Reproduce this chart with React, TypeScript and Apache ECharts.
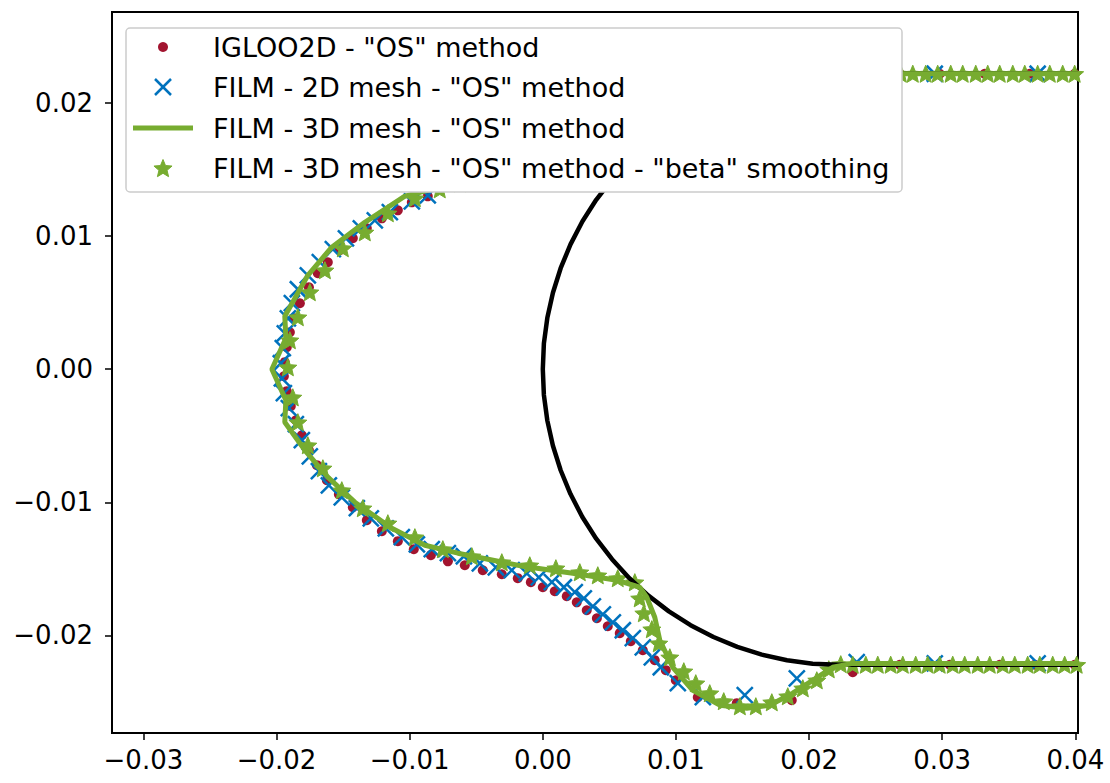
import React, { useEffect, useRef } from "react";
import * as echarts from "echarts";

type P = [number, number];

const X_TICKS = [-0.03, -0.02, -0.01, 0.0, 0.01, 0.02, 0.03, 0.04];
const Y_TICKS = [-0.02, -0.01, 0.0, 0.01, 0.02];

const LEGEND_LABELS = [
  'IGLOO2D - "OS" method',
  'FILM - 2D mesh - "OS" method',
  'FILM - 3D mesh - "OS" method',
  'FILM - 3D mesh - "OS" method - "beta" smoothing',
];

// cylinder wall (black)
const cylinder: P[] = [
  [0.0402, 0.0222], [0.0222, 0.0222], [0.02027, 0.02212], [0.01834, 0.02186], [0.01645, 0.02144],
  [0.01461, 0.02086], [0.01282, 0.02012], [0.0111, 0.01923], [0.00947, 0.01819], [0.00793, 0.01701],
  [0.0065, 0.0157], [0.0052, 0.01427], [0.00401, 0.01273], [0.00297, 0.0111], [0.00208, 0.00938],
  [0.00134, 0.00759], [0.00076, 0.00575], [0.00034, 0.00386], [0.00008, 0.00193], [0, 0],
  [0.00008, -0.00193], [0.00034, -0.00386], [0.00076, -0.00575], [0.00134, -0.00759], [0.00208, -0.00938],
  [0.00297, -0.0111], [0.00401, -0.01273], [0.0052, -0.01427], [0.0065, -0.0157], [0.00793, -0.01701],
  [0.00947, -0.01819], [0.0111, -0.01923], [0.01282, -0.02012], [0.01461, -0.02086], [0.01645, -0.02144],
  [0.01834, -0.02186], [0.02027, -0.02212], [0.0222, -0.0222], [0.0402, -0.0222],
];

const igloo2d: P[] = [
  [0.03995, 0.0222], [0.03657, 0.0222], [0.03319, 0.0222], [0.02981, 0.0222], [0.02681, 0.0222], [0.02381, 0.0222],
  [0.0208, 0.02215], [0.0178, 0.02193], [0.0148, 0.02155], [0.01179, 0.02095], [0.00879, 0.0202], [0.00578, 0.01923],
  [0.00278, 0.0181], [-0.00023, 0.01682], [-0.00323, 0.01555], [-0.00586, 0.0145], [-0.00774, 0.01374],
  [-0.00864, 0.01299], [-0.00984, 0.01254], [-0.01089, 0.01194], [-0.01209, 0.01134], [-0.01322, 0.01059],
  [-0.01427, 0.00984], [-0.01525, 0.00894], [-0.01615, 0.00804], [-0.0169, 0.00721], [-0.01757, 0.00616],
  [-0.01825, 0.00496], [-0.0187, 0.00383], [-0.019, 0.00278], [-0.01923, 0.00165], [-0.01938, 0.00053],
  [-0.01945, -0.00053], [-0.01923, -0.00165], [-0.01893, -0.00278], [-0.01855, -0.00383], [-0.0181, -0.00496],
  [-0.01757, -0.00608], [-0.01697, -0.00721], [-0.01622, -0.00834], [-0.01532, -0.00939], [-0.01427, -0.01037],
  [-0.01322, -0.01134], [-0.01209, -0.01217], [-0.01089, -0.01292], [-0.00969, -0.01352], [-0.00841, -0.01397],
  [-0.00713, -0.01443], [-0.00586, -0.01473], [-0.00451, -0.0151], [-0.00308, -0.0154], [-0.00188, -0.0157],
  [-0.0009, -0.016], [0, -0.01638], [0.0009, -0.01668], [0.0018, -0.01705], [0.00255, -0.01751],
  [0.0033, -0.01811], [0.00406, -0.01871], [0.00488, -0.01931], [0.00578, -0.01983], [0.00661, -0.02044],
  [0.00751, -0.02111], [0.00841, -0.02186], [0.00924, -0.02261], [0.00999, -0.02337], [0.01164, -0.02464],
  [0.01457, -0.02509], [0.0187, -0.02487], [0.02328, -0.02276],
  [0.02681, -0.0222], [0.03057, -0.0222], [0.03432, -0.0222], [0.03695, -0.0222], [0.03995, -0.0222],
];

const film2d: P[] = [
  [0.03717, 0.0222], [0.02944, 0.0222], [0.02381, 0.0222],
  [0.0193, 0.022], [0.0148, 0.02148], [0.01029, 0.02058], [0.00578, 0.0193], [0.00128, 0.0178],
  [-0.00323, 0.01585], [-0.00698, 0.01404],
  [-0.00864, 0.01307], [-0.00984, 0.01262], [-0.01149, 0.0118], [-0.01262, 0.01119], [-0.01367, 0.01059],
  [-0.01479, 0.00984], [-0.01577, 0.00902], [-0.01675, 0.00804], [-0.01765, 0.00706], [-0.0184, 0.00601],
  [-0.01885, 0.00496], [-0.01915, 0.00383], [-0.01938, 0.0027], [-0.01953, 0.00158], [-0.01968, 0.00045],
  [-0.0196, -0.00068], [-0.01945, -0.0018], [-0.01908, -0.00293], [-0.01855, -0.00413], [-0.0181, -0.00533],
  [-0.0175, -0.00654], [-0.01682, -0.00766], [-0.01607, -0.00872], [-0.0151, -0.00962], [-0.01397, -0.01044],
  [-0.01292, -0.0112], [-0.01179, -0.01195], [-0.01059, -0.01262], [-0.00946, -0.01315], [-0.00834, -0.01352],
  [-0.00713, -0.01382], [-0.00593, -0.01405], [-0.00473, -0.01458], [-0.00353, -0.01488], [-0.00233, -0.0151],
  [-0.0012, -0.01533], [-0.0003, -0.01563], [0.00068, -0.016], [0.00158, -0.01638], [0.0024, -0.01675],
  [0.00308, -0.01721], [0.00376, -0.01781], [0.00451, -0.01841], [0.00526, -0.01901], [0.00601, -0.01961],
  [0.00676, -0.02021], [0.00751, -0.02089], [0.00819, -0.02164], [0.00886, -0.02239], [0.01014, -0.02359],
  [0.01202, -0.02464], [0.01517, -0.02449], [0.01908, -0.02322], [0.02358, -0.02201],
  [0.02944, -0.0221], [0.03717, -0.0221],
];

const film3dLine: P[] = [
  [0.0402, 0.0222], [0.02306, 0.0222],
  [0.0193, 0.02209], [0.01555, 0.02171], [0.01179, 0.02089], [0.00804, 0.01946], [0.00428, 0.01773],
  [0.00053, 0.01608], [-0.00323, 0.01495], [-0.00698, 0.0139],
  [-0.01036, 0.013], [-0.01337, 0.01104], [-0.01585, 0.00917], [-0.01765, 0.00706], [-0.01938, 0.00398],
  [-0.0193, 0.00233], [-0.02035, 0], [-0.0193, -0.00233], [-0.01938, -0.00398], [-0.01787, -0.00609],
  [-0.01615, -0.00811], [-0.01412, -0.00999], [-0.01134, -0.01195], [-0.00886, -0.01322], [-0.00638, -0.01382],
  [-0.0015, -0.0148], [0.00225, -0.01533], [0.00556, -0.01585], [0.00728, -0.01638], [0.00781, -0.01713],
  [0.00841, -0.01863], [0.00879, -0.02036], [0.00976, -0.02239], [0.01126, -0.02412], [0.01329, -0.02524],
  [0.01532, -0.02547], [0.01704, -0.02524], [0.01877, -0.02434], [0.02027, -0.02337], [0.02177, -0.02239],
  [0.02327, -0.0221], [0.0402, -0.0221],
];

const film3dBeta: P[] = [
  [0.03995, 0.0222], [0.03905, 0.0222], [0.03808, 0.0222], [0.03717, 0.0222], [0.0362, 0.0222],
  [0.0353, 0.0222], [0.03432, 0.0222], [0.03342, 0.0222], [0.03252, 0.0222], [0.03154, 0.0222],
  [0.03064, 0.0222], [0.02966, 0.0222], [0.02876, 0.0222], [0.02779, 0.0222], [0.02689, 0.0222],
  [0.02599, 0.0222], [0.02501, 0.0222], [0.02411, 0.0222], [0.02313, 0.0222],
  [0.02215, 0.02216], [0.0208, 0.022], [0.0193, 0.02186], [0.0178, 0.02164], [0.0163, 0.02134],
  [0.0148, 0.02104], [0.01329, 0.02066], [0.01179, 0.02021], [0.01029, 0.01968], [0.00879, 0.01916],
  [0.00728, 0.01856], [0.00578, 0.01796], [0.00428, 0.01736], [0.00278, 0.01675], [0.00128, 0.01615],
  [-0.00023, 0.01563], [-0.00173, 0.01518], [-0.00323, 0.01473], [-0.00473, 0.01435], [-0.00623, 0.01397],
  [-0.00774, 0.01352],
  [-0.00961, 0.01285], [-0.01164, 0.01172], [-0.01337, 0.01029], [-0.01502, 0.00909], [-0.01637, 0.00744],
  [-0.0175, 0.00579], [-0.0184, 0.00391], [-0.019, 0.00218], [-0.01915, 0.00015],
  [-0.01878, -0.00211], [-0.0184, -0.00398], [-0.01765, -0.00571], [-0.01652, -0.00744], [-0.0151, -0.00909],
  [-0.01352, -0.01044], [-0.01164, -0.01157], [-0.00961, -0.01262], [-0.00751, -0.01352], [-0.00533, -0.01405],
  [-0.00308, -0.0145], [-0.00098, -0.01473], [0.00098, -0.01495], [0.00278, -0.01525], [0.00413, -0.01548],
  [0.00563, -0.0157], [0.00691, -0.016], [0.00728, -0.01721], [0.00759, -0.01833], [0.00819, -0.01953],
  [0.00871, -0.02059], [0.00954, -0.02164], [0.01059, -0.02269], [0.01149, -0.02359], [0.01254, -0.02434],
  [0.01359, -0.02494], [0.0148, -0.02532], [0.016, -0.02532], [0.0172, -0.02502], [0.0184, -0.02457],
  [0.01953, -0.02397], [0.02058, -0.02337], [0.02148, -0.02254], [0.02238, -0.02216],
  [0.02328, -0.0222], [0.02426, -0.0222], [0.02516, -0.0222], [0.02613, -0.0222], [0.02704, -0.0222],
  [0.02801, -0.0222], [0.02891, -0.0222], [0.02981, -0.0222], [0.03079, -0.0222], [0.03169, -0.0222],
  [0.03267, -0.0222], [0.03357, -0.0222], [0.03455, -0.0222], [0.03545, -0.0222], [0.03642, -0.0222],
  [0.03733, -0.0222], [0.0383, -0.0222], [0.0392, -0.0222], [0.0401, -0.0222],
];

const RED = "#A2142F";
const BLUE = "#0072BD";
const GREEN = "#77AC30";
const FONT = "DejaVu Sans";

const X_PATH = "path://M0,0L10,10M0,10L10,0";
const STAR_PATH =
  "path://M0,-10L2.65,-3.65L9.51,-3.09L4.29,1.39L5.88,8.09L0,4.5L-5.88,8.09L-4.29,1.39L-9.51,-3.09L-2.65,-3.65Z";

const fmt = (v: number) => {
  const s = Math.abs(v).toFixed(2);
  return v < -1e-9 ? "\u2212" + s : s;
};

export default function App() {
  const ref = useRef<HTMLDivElement>(null);
  useEffect(() => {
    const chart = echarts.init(ref.current!, null, { renderer: "svg" });
    const rowY = [47, 87, 128, 168];
    const mx = 163;
    const R = 9.5;
    const rr = R * 0.45;
    const starPts: number[][] = [];
    for (let k = 0; k < 10; k++) {
      const a = (-90 + k * 36) * (Math.PI / 180);
      const rad = k % 2 === 0 ? R : rr;
      starPts.push([mx + rad * Math.cos(a), rowY[3] + 1 + rad * Math.sin(a)]);
    }
    const legendEls: any[] = [
      {
        type: "rect",
        shape: { x: 126, y: 28, width: 776, height: 164, r: 4 },
        style: { fill: "#ffffff", stroke: "#cccccc", lineWidth: 1.5 },
        z: 100,
      },
      { type: "circle", shape: { cx: mx, cy: rowY[0], r: 5 }, style: { fill: RED }, z: 101 },
      { type: "line", shape: { x1: mx - 8, y1: rowY[1] - 8, x2: mx + 8, y2: rowY[1] + 8 }, style: { stroke: BLUE, lineWidth: 2.5 }, z: 101 },
      { type: "line", shape: { x1: mx - 8, y1: rowY[1] + 8, x2: mx + 8, y2: rowY[1] - 8 }, style: { stroke: BLUE, lineWidth: 2.5 }, z: 101 },
      { type: "line", shape: { x1: 133, y1: rowY[2], x2: 193, y2: rowY[2] }, style: { stroke: GREEN, lineWidth: 5 }, z: 101 },
      { type: "polygon", shape: { points: starPts }, style: { fill: GREEN, stroke: GREEN, lineWidth: 1 }, z: 101 },
      ...LEGEND_LABELS.map((t, i) => ({
        type: "text",
        x: 213,
        y: rowY[i],
        style: { text: t, fontSize: 27, fontFamily: FONT, fill: "#000", verticalAlign: "middle", align: "left" },
        z: 101,
      })),
    ];

    chart.setOption({
      animation: false,
      backgroundColor: "#ffffff",
      grid: { left: 112, right: 32, top: 12, bottom: 50, show: true, borderColor: "#000", borderWidth: 2 },
      xAxis: {
        type: "value",
        min: -0.03236,
        max: 0.0402,
        splitLine: { show: false },
        axisLine: { show: true, onZero: false, lineStyle: { color: "#000", width: 2 } },
        axisTick: { show: true, customValues: X_TICKS, length: 7, lineStyle: { color: "#000", width: 1.5 } },
        axisLabel: { customValues: X_TICKS, formatter: fmt, fontSize: 26, fontFamily: FONT, color: "#000", margin: 14 },
      },
      yAxis: {
        type: "value",
        min: -0.02733,
        max: 0.02684,
        splitLine: { show: false },
        axisLine: { show: true, onZero: false, lineStyle: { color: "#000", width: 2 } },
        axisTick: { show: true, customValues: Y_TICKS, length: 7, lineStyle: { color: "#000", width: 1.5 } },
        axisLabel: { customValues: Y_TICKS, formatter: fmt, fontSize: 26, fontFamily: FONT, color: "#000", margin: 19 },
      },
      series: [
        {
          name: "wall",
          type: "line",
          data: cylinder,
          showSymbol: false,
          symbol: "none",
          lineStyle: { color: "#000", width: 4.5 },
        },
        {
          name: LEGEND_LABELS[0],
          type: "scatter",
          data: igloo2d,
          symbol: "circle",
          symbolSize: 10,
          itemStyle: { color: RED, opacity: 1 },
        },
        {
          name: LEGEND_LABELS[1],
          type: "scatter",
          data: film2d,
          symbol: X_PATH,
          symbolSize: 16,
          itemStyle: { color: "none", borderColor: BLUE, borderWidth: 2.5, opacity: 1 },
        },
        {
          name: LEGEND_LABELS[2],
          type: "line",
          data: film3dLine,
          showSymbol: false,
          symbol: "none",
          lineStyle: { color: GREEN, width: 5 },
        },
        {
          name: LEGEND_LABELS[3],
          type: "scatter",
          data: film3dBeta,
          symbol: STAR_PATH,
          symbolKeepAspect: true,
          symbolSize: 18,
          itemStyle: { color: GREEN, borderColor: GREEN, borderWidth: 1, opacity: 1 },
        },
      ],
      graphic: { elements: legendEls },
    });
    return () => chart.dispose();
  }, []);
  return (
    <div
      ref={ref}
      style={{ position: "fixed", left: 0, top: 0, width: 1110, height: 783, background: "#fff" }}
    />
  );
}
